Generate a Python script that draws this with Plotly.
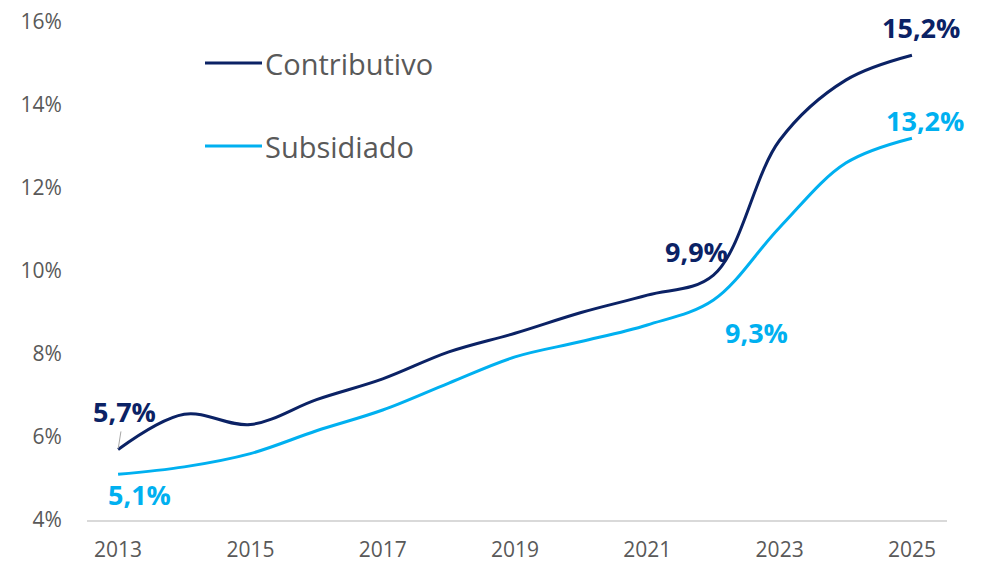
import plotly.graph_objects as go

years = [2013, 2014, 2015, 2016, 2017, 2018, 2019, 2020, 2021, 2022, 2023, 2024, 2025]
contributivo = [5.7, 6.55, 6.3, 6.9, 7.4, 8.05, 8.5, 9.0, 9.42, 9.9, 13.15, 14.6, 15.2]
subsidiado = [5.1, 5.28, 5.6, 6.15, 6.65, 7.3, 7.93, 8.3, 8.7, 9.3, 11.05, 12.6, 13.2]
y_ticks = [4, 6, 8, 10, 12, 14, 16]
x_ticks = [2013, 2015, 2017, 2019, 2021, 2023, 2025]
series_names = ["Contributivo", "Subsidiado"]

C_DARK = "#0B2265"
C_LIGHT = "#00B0F0"
FONT = "Open Sans"

fig = go.Figure()
fig.add_trace(go.Scatter(x=years, y=contributivo, mode="lines", name=series_names[0],
                         line=dict(color=C_DARK, width=3, shape="spline", smoothing=1.0),
                         showlegend=False))
fig.add_trace(go.Scatter(x=years, y=subsidiado, mode="lines", name=series_names[1],
                         line=dict(color=C_LIGHT, width=3, shape="spline", smoothing=1.0),
                         showlegend=False))

def fmt(v):
    return f"{v:.1f}".replace(".", ",") + "%"

lab_font = dict(family=FONT, size=27, color=C_DARK, weight="bold")
lab_font_l = dict(family=FONT, size=27, color=C_LIGHT, weight="bold")

# data labels
anns = [
    dict(x=years[0], y=contributivo[0], text=fmt(contributivo[0]), font=lab_font,
         showarrow=True, arrowhead=0, arrowwidth=1, arrowcolor="#A6A6A6", ax=6, ay=-38, standoff=1),
    dict(x=years[0], y=subsidiado[0], text=fmt(subsidiado[0]), font=lab_font_l,
         showarrow=False, xshift=21, yshift=-20),
    dict(x=years[9], y=contributivo[9], text=fmt(contributivo[9]), font=lab_font,
         showarrow=False, xshift=-17, yshift=24),
    dict(x=years[9], y=subsidiado[9], text=fmt(subsidiado[9]), font=lab_font_l,
         showarrow=False, xshift=43, yshift=-32),
    dict(x=years[12], y=contributivo[12], text=fmt(contributivo[12]), font=lab_font,
         showarrow=False, xshift=9, yshift=28),
    dict(x=years[12], y=subsidiado[12], text=fmt(subsidiado[12]), font=lab_font_l,
         showarrow=False, xshift=13, yshift=18),
]

# manual legend
leg_font = dict(family=FONT, size=29, color="#595959")
shapes = []
for i, (name, col) in enumerate(zip(series_names, [C_DARK, C_LIGHT])):
    ypx = 63 + i * 83
    yp = 1 - (ypx - 22) / 498
    x0 = (205 - 87) / 860
    x1 = (262 - 87) / 860
    shapes.append(dict(type="line", xref="paper", yref="paper", x0=x0, x1=x1, y0=yp, y1=yp,
                       line=dict(color=col, width=3)))
    anns.append(dict(xref="paper", yref="paper", x=x1, y=yp, xanchor="left", yanchor="middle",
                     text=name, font=leg_font, showarrow=False, xshift=1))

# page body has an 8px margin: figure is 977x557 and offset by 8px
fig.update_layout(
    width=977, height=557,
    margin=dict(l=79, r=38, t=14, b=45, autoexpand=False),
    paper_bgcolor="white", plot_bgcolor="white",
    annotations=anns, shapes=shapes,
    showlegend=False,
    xaxis=dict(range=[2012.53, 2025.53], tickvals=x_ticks, ticktext=[str(v) for v in x_ticks],
               automargin=False, ticklabeloverflow="allow",
               showgrid=False, zeroline=False, showline=True, linecolor="#D9D9D9", linewidth=2,
               ticks="outside", ticklen=10, tickcolor="rgba(0,0,0,0)",
               tickfont=dict(family=FONT, size=21, color="#595959")),
    yaxis=dict(range=[4, 16], tickvals=y_ticks, ticktext=[f"{v}%" for v in y_ticks],
               automargin=False, ticklabeloverflow="allow",
               showgrid=False, zeroline=False, showline=False,
               ticks="outside", ticklen=20, tickcolor="rgba(0,0,0,0)",
               tickfont=dict(family=FONT, size=21, color="#595959")),
)

fig.write_html("out.html")
